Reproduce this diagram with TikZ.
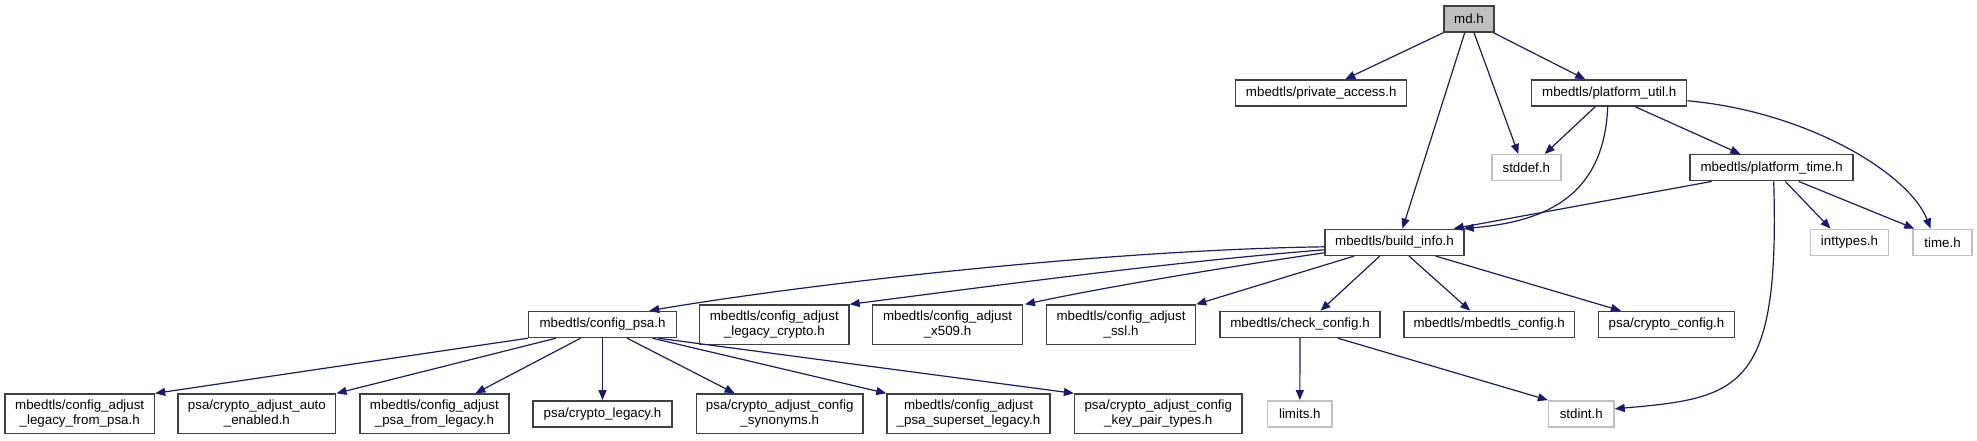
\documentclass[tikz,border=0pt]{standalone}
\usepackage{fontspec}
\setmainfont{Liberation Sans}
\usetikzlibrary{arrows.meta,calc}
\definecolor{midblue}{HTML}{191970}
\begin{document}
\begin{tikzpicture}[x=0.75pt,y=-0.75pt,
  box/.style={draw=black!75, line width=1.1pt, fill=white, inner sep=0pt,
    minimum height=26*0.75pt, font=\fontsize{10}{11}\selectfont, align=center, text=black},
  box2/.style={box, minimum height=39.5*0.75pt},
  sysbox/.style={box, draw=black!25},
  rootbox/.style={box, fill=black!25},
  wd/.style={minimum width=#1*0.75pt},
  edge/.style={draw=midblue, line width=0.9pt, -{Triangle[length=7.5pt,width=6pt]}}]
\useasboundingbox (0,0) rectangle (1977,440);
% nodes
\node[rootbox, wd=50] (md) at (1469,19) {md.h};
\node[box, wd=171] (pa) at (1321.2,93) {mbedtls/private\_access.h};
\node[box, wd=155] (pu) at (1609.2,93) {mbedtls/platform\_util.h};
\node[sysbox, wd=69] (stddef) at (1526.3,167.7) {stddef.h};
\node[box, wd=163] (pt) at (1771.7,167.7) {mbedtls/platform\_time.h};
\node[box, wd=139] (bi) at (1394.5,242.3) {mbedtls/build\_info.h};
\node[sysbox, wd=78] (inttypes) at (1849.5,242.3) {inttypes.h};
\node[sysbox, wd=59] (time) at (1942.5,242.3) {time.h};
\node[box, wd=148] (cpsa) at (602.5,324.5) {mbedtls/config\_psa.h};
\node[box2, wd=149.4] (lc) at (774.3,324.8) {mbedtls/config\_adjust\\\_legacy\_crypto.h};
\node[box2, wd=149.5] (x509) at (947.5,324.8) {mbedtls/config\_adjust\\\_x509.h};
\node[box2, wd=149] (ssl) at (1121,324.8) {mbedtls/config\_adjust\\\_ssl.h};
\node[box, wd=160] (cc) at (1300,324.5) {mbedtls/check\_config.h};
\node[box, wd=170.6] (mc) at (1489.2,324.5) {mbedtls/mbedtls\_config.h};
\node[box, wd=136] (cconf) at (1666.5,324.5) {psa/crypto\_config.h};
\node[box2, wd=149.6] (lfp) at (79.7,413.8) {mbedtls/config\_adjust\\\_legacy\_from\_psa.h};
\node[box2, wd=157.7] (autoen) at (256.9,413.8) {psa/crypto\_adjust\_auto\\\_enabled.h};
\node[box2, wd=149.2] (pfl) at (434.4,413.8) {mbedtls/config\_adjust\\\_psa\_from\_legacy.h};
\node[box, wd=139] (cl) at (602.5,413.8) {psa/crypto\_legacy.h};
\node[box2, wd=166.6] (syn) at (779.7,413.8) {psa/crypto\_adjust\_config\\\_synonyms.h};
\node[box2, wd=163] (sup) at (968.5,413.8) {mbedtls/config\_adjust\\\_psa\_superset\_legacy.h};
\node[box2, wd=167.4] (kp) at (1158.3,413.8) {psa/crypto\_adjust\_config\\\_key\_pair\_types.h};
\node[sysbox, wd=64.4] (limits) at (1299.8,413.8) {limits.h};
\node[sysbox, wd=65.4] (stdint) at (1581.3,413.8) {stdint.h};
% edges from md.h
\draw[edge] (md.south west) -- ($(pa.north)+(24,0)$);
\draw[edge] ($(md.south)+(-4.3,0)$) -- ($(bi.north)+(8,0)$);
\draw[edge] ($(md.south)+(5,0)$) -- ($(stddef.north)+(-8,0)$);
\draw[edge] ($(md.south east)+(-1.3,0)$) -- ($(pu.north)+(-24,0)$);
% platform_util
\draw[edge] ($(pu.south)+(-14,0)$) -- ($(stddef.north)+(18.4,0)$);
\draw[edge] ($(pu.south)+(-1.5,0)$) .. controls (1604,200) and (1540,222) .. ($(bi.north east)+(-1,0)$);
\draw[edge] ($(pu.south)+(26,0)$) -- ($(pt.north)+(-31.4,0)$);
\draw[edge] ($(pu.south east)+(0,-6)$) .. controls (1810,112) and (1910,175) .. ($(time.north)+(-12,0)$);
% platform_time
\draw[edge] ($(pt.south)+(-60,0)$) -- ($(bi.north east)+(-11,0)$);
\draw[edge] ($(pt.south)+(2,0)$) .. controls (1780,390) and (1740,398) .. ($(stdint.east)+(0,-5)$);
\draw[edge] ($(pt.south)+(13.6,0)$) -- ($(inttypes.north)+(-19,0)$);
\draw[edge] ($(pt.south)+(27,0)$) -- ($(time.north west)+(2,0)$);
% build_info
\draw[edge] ($(bi.west)+(0,4.5)$) .. controls (1100,250) and (800,285) .. ($(cpsa.north east)+(-28,0)$);
\draw[edge] ($(bi.west)+(0,7.5)$) .. controls (1170,262) and (1000,285) .. (lc.north east);
\draw[edge] ($(bi.west)+(0,10.5)$) .. controls (1220,268) and (1100,288) .. ($(x509.north east)+(2,0)$);
\draw[edge] ($(bi.south west)+(30,0)$) -- (ssl.north east);
\draw[edge] ($(bi.south)+(-14.7,0)$) -- ($(cc.north)+(20.5,0)$);
\draw[edge] ($(bi.south)+(14.5,0)$) -- ($(mc.north)+(-19,0)$);
\draw[edge] ($(bi.south)+(41,0)$) -- ($(cconf.north)+(-45.6,0)$);
% check_config
\draw[edge] (cc.south) -- (limits.north);
\draw[edge] ($(cc.south)+(38,0)$) -- (stdint.north west);
% config_psa
\draw[edge] (cpsa.south west) -- (lfp.north east);
\draw[edge] ($(cpsa.south)+(-46.7,0)$) -- (autoen.north east);
\draw[edge] ($(cpsa.south)+(-22,0)$) -- ($(pfl.north)+(41,0)$);
\draw[edge] (cpsa.south) -- (cl.north);
\draw[edge] ($(cpsa.south)+(24.7,0)$) -- ($(syn.north)+(-45,0)$);
\draw[edge] ($(cpsa.south)+(50,0)$) -- (sup.north west);
\draw[edge] ($(cpsa.south)+(56,0)$) -- (kp.north west);
\end{tikzpicture}
\end{document}
